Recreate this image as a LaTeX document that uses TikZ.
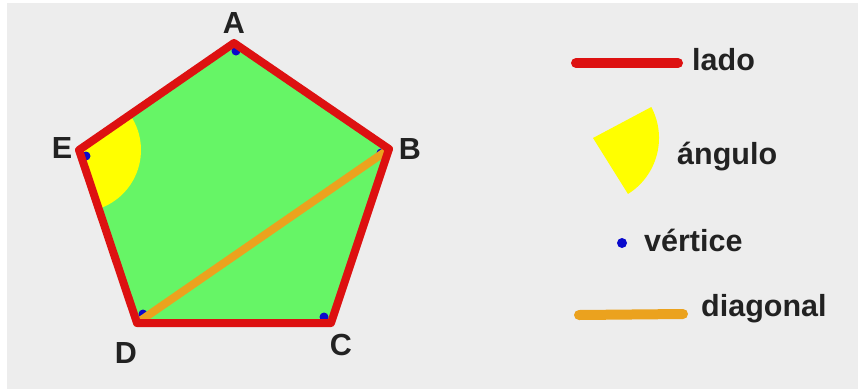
\documentclass[tikz,border=0pt]{standalone}
\usepackage{fontspec}
\setmainfont{Liberation Sans}
\definecolor{bggray}{HTML}{EDEDED}
\definecolor{pgreen}{HTML}{66F566}
\definecolor{pred}{HTML}{DD1111}
\definecolor{pyellow}{HTML}{FFFF00}
\definecolor{porange}{HTML}{EBA21E}
\definecolor{pblue}{HTML}{0A0ACC}
\definecolor{ptext}{HTML}{222222}
\tikzset{
  lbl/.style={font=\fontsize{30.5}{32}\selectfont\bfseries, text=ptext, inner sep=0pt},
  side/.style={draw=pred, line width=8pt, line join=round, line cap=round},
  diag/.style={draw=porange, line width=8pt, line cap=round},
  vdot/.style={circle, fill=pblue, inner sep=0pt, minimum size=9pt},
}
\begin{document}
\begin{tikzpicture}[x=1pt,y=-1pt]
\useasboundingbox (0,0) rectangle (858,389);
\fill[white] (0,0) rectangle (858,389);
\fill[bggray] (7,3) rectangle (858,389);
% vertices
\coordinate (A) at (234,43);
\coordinate (B) at (389,149);
\coordinate (C) at (331,323);
\coordinate (D) at (137,323);
\coordinate (E) at (79,150);
% polygon fill
\fill[pgreen] (A) -- (B) -- (C) -- (D) -- (E) -- cycle;
% angle at E
\begin{scope}
\clip (A) -- (B) -- (C) -- (D) -- (E) -- cycle;
\fill[pyellow] (E) -- ++(-34:62) arc[start angle=-34, end angle=72, radius=62] -- cycle;
\end{scope}
% vertex dots
\node[vdot] (dA) at (236,51) {};
\node[vdot] (dB) at (381,153) {};
\node[vdot] (dC) at (324,317) {};
\node[vdot] (dD) at (143,314) {};
\node[vdot] (dE) at (86,156) {};
% diagonal
\draw[diag] (D) -- (B);
% sides
\draw[side] (A) -- (B) -- (C) -- (D) -- (E) -- cycle;
% labels
\node[lbl] (lA) at (234,23) {A};
\node[lbl] (lB) at (410,149) {B};
\node[lbl] (lC) at (341,345) {C};
\node[lbl] (lD) at (126,353) {D};
\node[lbl] (lE) at (62,148) {E};
% legend
\coordinate (r1) at (576,63);
\coordinate (r2) at (678,63);
\draw[draw=pred, line width=10pt, line cap=round] (r1) -- (r2);
\node[lbl, anchor=west] (tlado) at (692,60) {lado};
\coordinate (sv) at (593,138);
\fill[pyellow] (sv) -- ++(-28:66) arc[start angle=-28, end angle=58, radius=66] -- cycle;
\node[lbl, anchor=west] (tang) at (677,157) {ángulo};
\node[vdot, minimum size=10pt] (ldot) at (622,243) {};
\node[lbl, anchor=west] (tvert) at (644,240) {vértice};
\coordinate (o1) at (579,315);
\coordinate (o2) at (683,314);
\draw[draw=porange, line width=10pt, line cap=round] (o1) -- (o2);
\node[lbl, anchor=west] (tdiag) at (701,309) {diagonal};
\end{tikzpicture}
\end{document}
